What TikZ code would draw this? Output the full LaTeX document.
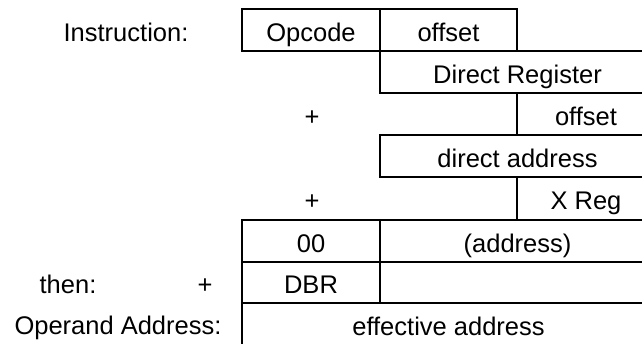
\documentclass[tikz,border=0pt]{standalone}
\usepackage{fontspec}
\setmainfont{Liberation Sans}
\begin{document}
\begin{tikzpicture}[x=1pt,y=-1pt,
  every node/.style={font=\fontsize{25.5}{30}\selectfont, inner sep=0pt, outer sep=0pt, text height=22pt, text depth=0pt},
  cell/.style={draw, line width=1.8pt, anchor=north west, minimum height=#1},
  lbl/.style={}]
\useasboundingbox (0,0) rectangle (642,343);
\clip (0,0) rectangle (642,343);
% instruction row
\node[cell=42pt, minimum width=138pt] (opc) at (242,9) {Opcode};
\node[cell=42pt, minimum width=137pt] (off1) at (380,9) {offset};
\node[cell=42pt, minimum width=275pt] (dr) at (380,51) {Direct Register};
\node[cell=42pt, minimum width=138pt] (off2) at (517,93) {offset};
\node[cell=42pt, minimum width=275pt] (da) at (380,135) {direct address};
\node[cell=43pt, minimum width=138pt] (xr) at (517,177) {X Reg};
\node[cell=42pt, minimum width=138pt] (zz) at (242,220) {00};
\node[cell=42pt, minimum width=275pt] (addr) at (380,220) {(address)};
\node[cell=41pt, minimum width=138pt] (dbr) at (242,262) {DBR};
\node[cell=41pt, minimum width=275pt] (blank) at (380,262) {};
\node[cell=42pt, minimum width=413pt] (ea) at (242,303) {effective address};
% labels
\node[lbl] (linstr) at (126,30) {Instruction:};
\node[lbl] (plus1) at (312,114) {+};
\node[lbl] (plus2) at (312,198) {+};
\node[lbl] (then) at (68,282) {then:};
\node[lbl] (plus3) at (205,282) {+};
\node[lbl] (opaddr) at (118,323) {Operand Address:};
\end{tikzpicture}
\end{document}
